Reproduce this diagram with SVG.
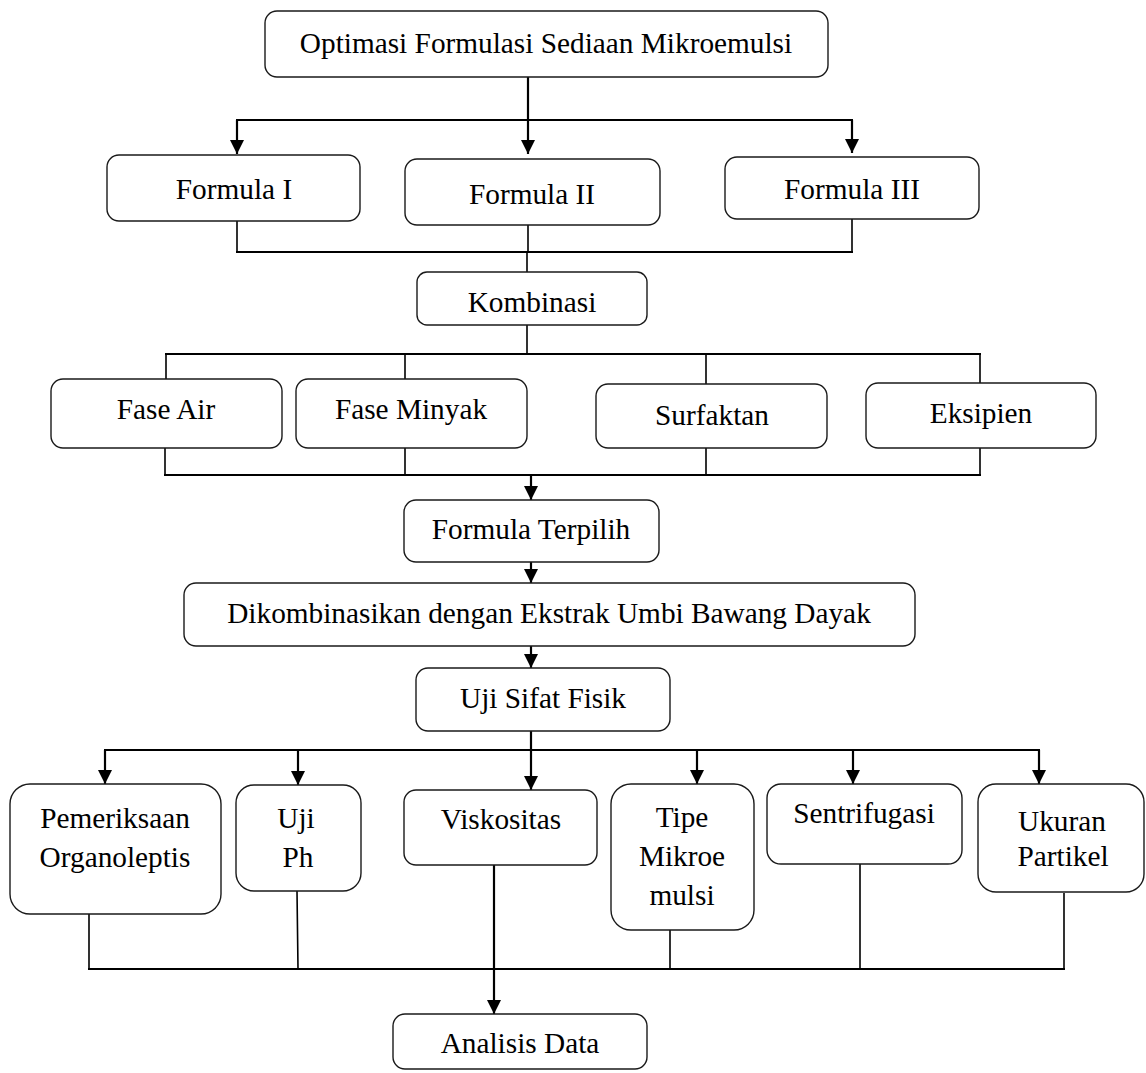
<svg xmlns="http://www.w3.org/2000/svg" width="1146" height="1073" viewBox="0 0 1146 1073">
  <style>
    .box { fill: #ffffff; stroke: #1a1a1a; stroke-width: 1.4; }
    .lbl { font-family: "Liberation Serif", "Times New Roman", serif; font-size: 29.3px; fill: #000; text-anchor: middle; }
    .bus { stroke: #000; stroke-width: 2.2; fill: none; }
    .tie { stroke: #000; stroke-width: 1.6; fill: none; }
    .arr { stroke: #000; stroke-width: 2.2; fill: none; marker-end: url(#head); }
  </style>
  <defs>
    <marker id="head" markerUnits="userSpaceOnUse" viewBox="0 0 14 14" markerWidth="14" markerHeight="14" refX="14" refY="7" orient="auto">
      <path d="M0,0 L14,7 L0,14 z" fill="#000"/>
    </marker>
  </defs>
  <rect width="1146" height="1073" fill="#ffffff"/>

  <!-- connectors -->
  <g id="connectors">
    <!-- top split to the three formulas -->
    <path class="bus" d="M528,77 V120 M236,120 H853"/>
    <path class="arr" d="M237,120 V154"/>
    <path class="arr" d="M528,120 V154"/>
    <path class="arr" d="M852,120 V153"/>
    <!-- formulas join into Kombinasi -->
    <path class="tie" d="M237,221 V252 M528,225 V252 M852,219 V252 M527,252 V272"/>
    <path class="bus" d="M236,252 H853"/>
    <!-- Kombinasi split to the four components -->
    <path class="tie" d="M527,325 V354 M166,354 V379 M405,354 V379 M706,354 V384 M980,354 V383"/>
    <path class="bus" d="M165,354 H981"/>
    <!-- components join into Formula Terpilih -->
    <path class="tie" d="M165,448 V475 M405,448 V475 M706,448 V475 M980,448 V475"/>
    <path class="bus" d="M164,475 H981"/>
    <path class="arr" d="M531,475 V500"/>
    <path class="arr" d="M531,562 V583"/>
    <path class="arr" d="M531,646 V668"/>
    <!-- Uji Sifat Fisik split to the six tests -->
    <path class="bus" d="M531,731 V750 M104,750 H1040"/>
    <path class="arr" d="M105,750 V784"/>
    <path class="arr" d="M298,750 V785"/>
    <path class="arr" d="M531,750 V790"/>
    <path class="arr" d="M697,750 V784"/>
    <path class="arr" d="M853,750 V784"/>
    <path class="arr" d="M1039,750 V784"/>
    <!-- tests join into Analisis Data -->
    <path class="tie" d="M89,914 V969 M297,891 L298,969 M670,930 V969 M860,864 V969 M1064,893 V969"/>
    <path class="bus" d="M88,969 H1065"/>
    <path class="arr" d="M494,865 V1014"/>
  </g>

  <!-- nodes -->
  <g id="n-optimasi">
    <rect class="box" x="265" y="11" width="563" height="66" rx="12"/>
    <text class="lbl" x="546" y="53">Optimasi Formulasi Sediaan Mikroemulsi</text>
  </g>
  <g id="n-formula1">
    <rect class="box" x="107" y="155" width="253" height="66" rx="12"/>
    <text class="lbl" x="234" y="199">Formula I</text>
  </g>
  <g id="n-formula2">
    <rect class="box" x="405" y="159" width="255" height="66" rx="12"/>
    <text class="lbl" x="532" y="204">Formula II</text>
  </g>
  <g id="n-formula3">
    <rect class="box" x="725" y="157" width="254" height="62" rx="12"/>
    <text class="lbl" x="852" y="199">Formula III</text>
  </g>
  <g id="n-kombinasi">
    <rect class="box" x="417" y="272" width="230" height="53" rx="10"/>
    <text class="lbl" x="532" y="312">Kombinasi</text>
  </g>
  <g id="n-fase-air">
    <rect class="box" x="51" y="379" width="231" height="69" rx="12"/>
    <text class="lbl" x="166" y="419">Fase Air</text>
  </g>
  <g id="n-fase-minyak">
    <rect class="box" x="296" y="379" width="231" height="69" rx="12"/>
    <text class="lbl" x="411" y="419">Fase Minyak</text>
  </g>
  <g id="n-surfaktan">
    <rect class="box" x="596" y="384" width="231" height="64" rx="12"/>
    <text class="lbl" x="712" y="425">Surfaktan</text>
  </g>
  <g id="n-eksipien">
    <rect class="box" x="866" y="383" width="230" height="65" rx="12"/>
    <text class="lbl" x="981" y="423">Eksipien</text>
  </g>
  <g id="n-terpilih">
    <rect class="box" x="404" y="500" width="255" height="62" rx="12"/>
    <text class="lbl" x="531" y="539">Formula Terpilih</text>
  </g>
  <g id="n-ekstrak">
    <rect class="box" x="184" y="583" width="731" height="63" rx="12"/>
    <text class="lbl" x="549" y="623">Dikombinasikan dengan Ekstrak Umbi Bawang Dayak</text>
  </g>
  <g id="n-uji-sifat">
    <rect class="box" x="416" y="668" width="254" height="63" rx="12"/>
    <text class="lbl" x="543" y="708">Uji Sifat Fisik</text>
  </g>
  <g id="n-organoleptis">
    <rect class="box" x="10" y="784" width="211" height="130" rx="20"/>
    <text class="lbl" x="115" y="828">Pemeriksaan</text>
    <text class="lbl" x="115" y="867">Organoleptis</text>
  </g>
  <g id="n-ph">
    <rect class="box" x="236" y="785" width="125" height="106" rx="18"/>
    <text class="lbl" x="296" y="828">Uji</text>
    <text class="lbl" x="298" y="867">Ph</text>
  </g>
  <g id="n-viskositas">
    <rect class="box" x="404" y="790" width="193" height="75" rx="12"/>
    <text class="lbl" x="501" y="829">Viskositas</text>
  </g>
  <g id="n-tipe">
    <rect class="box" x="611" y="784" width="143" height="146" rx="20"/>
    <text class="lbl" x="682" y="827">Tipe</text>
    <text class="lbl" x="682" y="866">Mikroe</text>
    <text class="lbl" x="682" y="905">mulsi</text>
  </g>
  <g id="n-sentrifugasi">
    <rect class="box" x="767" y="784" width="195" height="80" rx="14"/>
    <text class="lbl" x="864" y="823">Sentrifugasi</text>
  </g>
  <g id="n-partikel">
    <rect class="box" x="978" y="784" width="166" height="108" rx="18"/>
    <text class="lbl" x="1062" y="831">Ukuran</text>
    <text class="lbl" x="1063" y="866">Partikel</text>
  </g>
  <g id="n-analisis">
    <rect class="box" x="393" y="1014" width="254" height="55" rx="12"/>
    <text class="lbl" x="520" y="1053">Analisis Data</text>
  </g>
</svg>
